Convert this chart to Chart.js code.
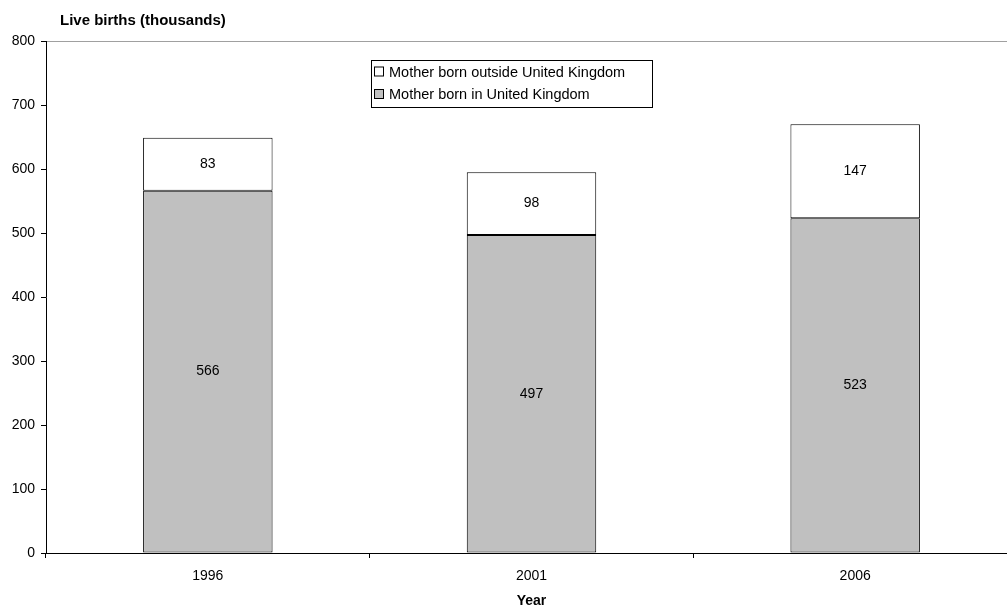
<!DOCTYPE html>
<html>
<head>
<meta charset="utf-8">
<script src="https://cdn.jsdelivr.net/npm/chart.js@4/dist/chart.umd.min.js"></script>
<style>
  html, body { margin: 0; padding: 0; background: #fff; overflow: hidden; }
  #wrap { width: 1007px; height: 607px; position: relative; overflow: hidden; }
  #c { position: absolute; left: 0; top: 0; }
</style>
</head>
<body>
<div id="wrap"><canvas id="c" width="1017" height="607"></canvas></div>
<script>
const years = ['1996', '2001', '2006'];
const bornInUK = [566, 497, 523];
const bornOutsideUK = [83, 98, 147];
const yTicks = [0, 100, 200, 300, 400, 500, 600, 700, 800];

const FONT = '"Liberation Sans", Arial, sans-serif';

// Value labels centred in each bar segment
const segmentLabels = {
  id: 'segmentLabels',
  afterDatasetsDraw(chart) {
    const ctx = chart.ctx;
    ctx.save();
    ctx.font = '14px ' + FONT;
    ctx.fillStyle = '#000';
    ctx.textAlign = 'center';
    ctx.textBaseline = 'middle';
    chart.data.datasets.forEach((ds, i) => {
      chart.getDatasetMeta(i).data.forEach((bar, j) => {
        const p = bar.getProps(['x', 'y', 'base'], true);
        ctx.fillText(String(ds.data[j]), p.x, (p.y + p.base) / 2);
      });
    });
    ctx.restore();
  }
};

// Boxed legend inside the plot area, the horizontal y-axis caption and the x-axis caption
const boxedLegend = {
  id: 'boxedLegend',
  afterDraw(chart) {
    const ctx = chart.ctx;
    ctx.save();
    ctx.font = 'bold 15px ' + FONT;
    ctx.fillStyle = '#000';
    ctx.textAlign = 'left';
    ctx.textBaseline = 'middle';
    ctx.fillText('Live births (thousands)', 60, 21);

    ctx.font = 'bold 14px ' + FONT;
    ctx.textAlign = 'center';
    ctx.fillText('Year', 531.5, 601);

    ctx.textAlign = 'left';
    const x0 = 371.5, y0 = 60.5, w = 281, h = 47;
    ctx.fillStyle = '#fff';
    ctx.fillRect(x0, y0, w, h);
    ctx.strokeStyle = '#000';
    ctx.lineWidth = 1;
    ctx.strokeRect(x0, y0, w, h);
    const items = chart.data.datasets.slice().reverse();
    ctx.font = '14.5px ' + FONT;
    items.forEach((ds, k) => {
      const cy = 72.5 + k * 22.5;
      ctx.fillStyle = ds.backgroundColor;
      ctx.fillRect(374.5, cy - 5.5, 9, 9);
      ctx.strokeStyle = '#000';
      ctx.strokeRect(374.5, cy - 5.5, 9, 9);
      ctx.fillStyle = '#000';
      ctx.fillText(ds.label, 389, cy);
    });
    ctx.restore();
  }
};

new Chart(document.getElementById('c'), {
  type: 'bar',
  data: {
    labels: years,
    datasets: [
      {
        label: 'Mother born in United Kingdom',
        data: bornInUK,
        backgroundColor: '#c0c0c0',
        borderColor: '#000',
        borderWidth: 1,
        borderSkipped: false
      },
      {
        label: 'Mother born outside United Kingdom',
        data: bornOutsideUK,
        backgroundColor: '#ffffff',
        borderColor: '#000',
        borderWidth: 1,
        borderSkipped: false
      }
    ]
  },
  options: {
    responsive: false,
    animation: false,
    devicePixelRatio: 1,
    layout: { padding: { top: 41, right: 0, bottom: 0, left: 0 } },
    datasets: { bar: { barPercentage: 0.4, categoryPercentage: 1 } },
    plugins: {
      legend: { display: false },
      tooltip: { enabled: false }
    },
    scales: {
      x: {
        stacked: true,
        offset: true,
        afterFit(s) { s.height = 54; },
        border: { color: '#000', width: 1 },
        grid: {
          offset: true,
          drawOnChartArea: false,
          tickLength: 5,
          tickColor: '#000'
        },
        ticks: {
          padding: 10,
          color: '#000',
          font: { family: FONT, size: 14 }
        }
      },
      y: {
        stacked: true,
        min: 0,
        max: 800,
        afterFit(s) { s.width = 46; },
        afterBuildTicks(s) { s.ticks = yTicks.map(v => ({ value: v })); },
        border: { color: '#000', width: 1 },
        grid: {
          color: c => (c.tick && c.tick.value === 800 ? '#a0a0a0' : 'rgba(0,0,0,0)'),
          tickColor: '#000',
          tickLength: 5
        },
        ticks: {
          padding: 6,
          color: '#000',
          font: { family: FONT, size: 14 }
        }
      }
    }
  },
  plugins: [segmentLabels, boxedLegend]
});
</script>
</body>
</html>
